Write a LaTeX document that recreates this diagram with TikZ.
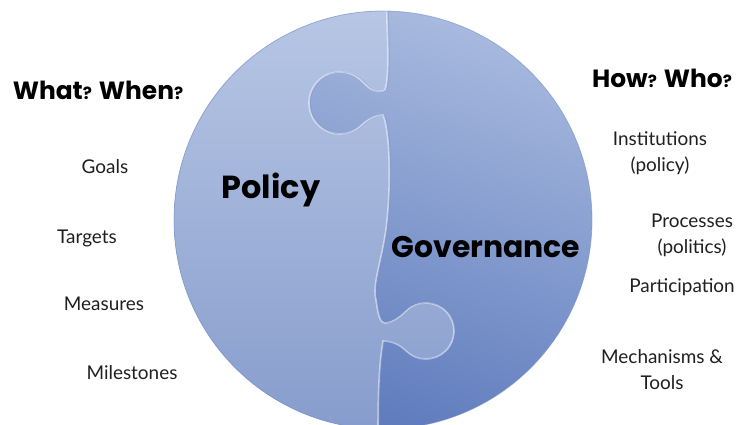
\documentclass[tikz,border=0pt]{standalone}
\usepackage{fontspec}
\setmainfont{Lato}
\newfontfamily\headfont{Poppins}[BoldFont={* Bold}]
\usetikzlibrary{positioning, shadings}

\definecolor{policytop}{RGB}{184,199,229}
\definecolor{policybot}{RGB}{134,156,204}
\definecolor{govul}{RGB}{156,176,217}
\definecolor{govur}{RGB}{178,194,227}
\definecolor{govll}{RGB}{82,112,182}
\definecolor{govlr}{RGB}{104,132,194}
\definecolor{rimcol}{RGB}{120,145,200}

\newcommand{\qmark}{{\fontsize{17}{17}\selectfont ?}}
\def\seampath{(386,430) .. controls (387,395) and (390,350) .. (385,334)
  .. controls (382,332) and (375,332) .. (368.5,336.6) .. controls (366,338.5) and (364,341) .. (361.5,343.3)
  arc[start angle=46, end angle=314, radius=31]
  .. controls (368.5,305.5) and (377,309) .. (383,309)
  .. controls (389,296) and (392,245) .. (386,195)
  .. controls (381,160) and (372,140) .. (376,124)
  .. controls (378,109) and (380,101) .. (385,101)
  .. controls (392,101) and (399.5,106.3) .. (406.55,113.14)
  arc[start angle=134, end angle=-134, radius=28]
  .. controls (399.5,79.7) and (392,83) .. (383,83)
  .. controls (379,60) and (378,30) .. (378,-10)}

\begin{document}
\begin{tikzpicture}[
  x=1bp, y=1bp,
  itemtext/.style={font=\fontsize{19}{26}\selectfont, align=center, text=black!88},
  headtext/.style={font=\headfont\bfseries\fontsize{25}{28}\selectfont},
  piecetext/.style={font=\headfont\bfseries\fontsize{32}{36}\selectfont}
]
\useasboundingbox (0,0) rectangle (737,424);

% Puzzle circle
\begin{scope}
\clip (0,0) rectangle (737,424);
\clip (383,204) circle[radius=209];
\shade[upper left=govul, upper right=govur, lower left=govll, lower right=govlr] (170,-10) rectangle (600,420);
\begin{scope}
\clip \seampath -- (160,-10) -- (160,430) -- cycle;
\shade[top color=policytop, bottom color=policybot] (160,-10) rectangle (470,420);
\end{scope}
\draw[white, opacity=0.5, line width=1.6] \seampath;
\draw[rimcol, opacity=0.35, line width=0.8, xshift=1.5bp] \seampath;
\end{scope}
\draw[rimcol, opacity=0.6, line width=0.8] (383,204) circle[radius=209];

% Piece labels
\node[piecetext] (policy) at (271,234) {Policy};
\node[piecetext, font=\headfont\bfseries\fontsize{30}{36}\selectfont] (governance) at (486,177) {Governance};

% Left column
\node[headtext] (whatwhen) at (98,334) {What\qmark{} When\qmark};
\node[itemtext] (goals) at (105,257) {Goals};
\node[itemtext] (targets) at (87,186) {Targets};
\node[itemtext] (measures) at (104,120) {Measures};
\node[itemtext] (milestones) at (132,51) {Milestones};

% Right column
\node[headtext] (howwho) at (662,346) {How\qmark{} Who\qmark};
\node[itemtext] (institutions) at (660,271) {Institutions\\(policy)};
\node[itemtext] (processes) at (692,188.5) {Processes\\(politics)};
\node[itemtext] (participation) at (682,137) {Participation};
\node[itemtext] (mechanisms) at (662,54.5) {Mechanisms \&\\Tools};

\end{tikzpicture}
\end{document}
